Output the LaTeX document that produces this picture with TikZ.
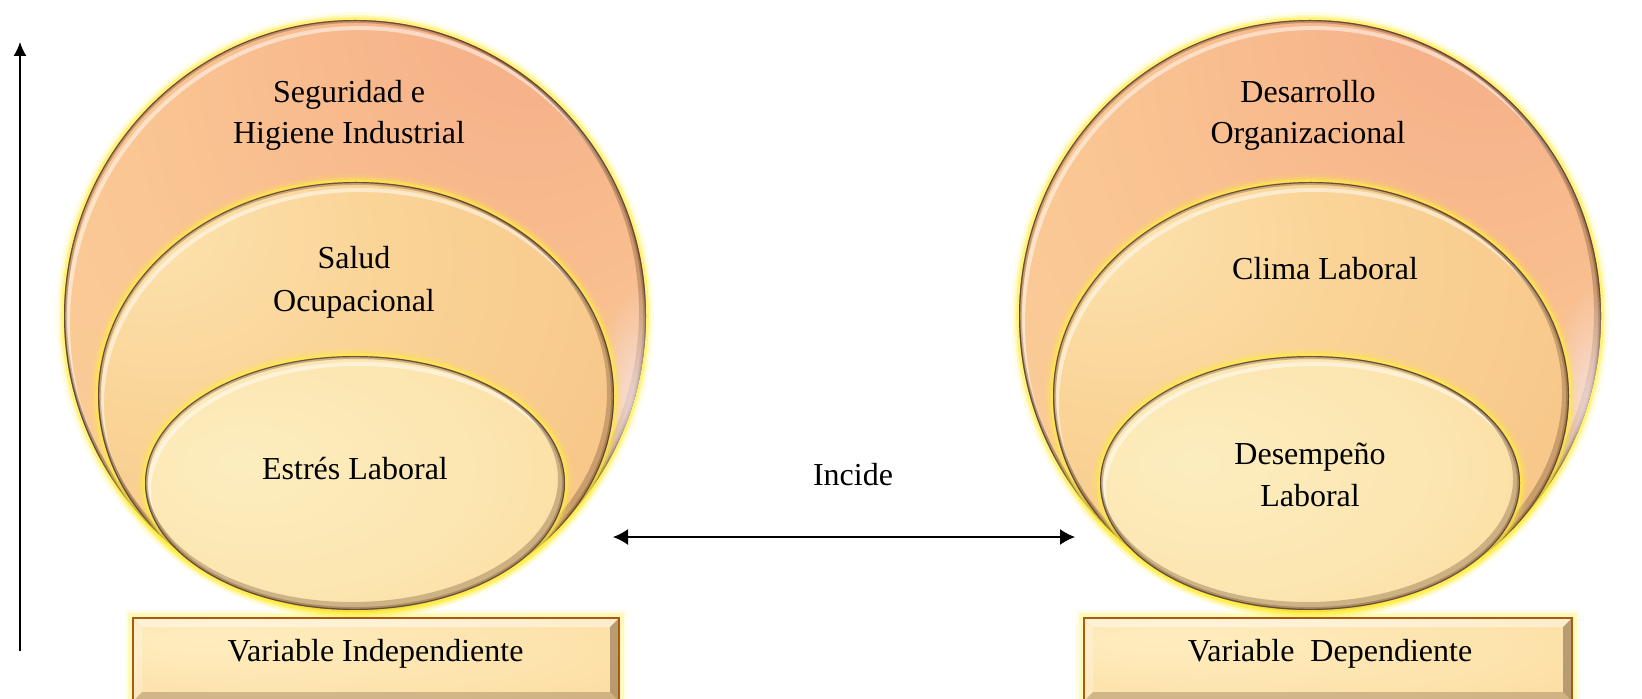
\documentclass[tikz,border=0pt]{standalone}
\usepackage{fontspec}
\setmainfont{Liberation Serif}
\usetikzlibrary{arrows.meta,fadings}
\definecolor{glow}{rgb}{1,0.93,0.25}
\definecolor{bevel}{rgb}{0.33,0.21,0.12}
\definecolor{lavender}{rgb}{0.96,0.90,0.93}
\tikzfading[name=softfade, inner color=transparent!0, outer color=transparent!100]
\pgfdeclareradialshading{bigshade}{\pgfpoint{17bp}{30bp}}{rgb(0bp)=(0.96,0.67,0.52); rgb(14bp)=(0.97,0.72,0.55); rgb(32bp)=(0.98,0.78,0.58); rgb(55bp)=(0.98,0.82,0.60); rgb(90bp)=(0.99,0.86,0.64)}
\pgfdeclareradialshading{midshade}{\pgfpoint{-22bp}{22bp}}{rgb(0bp)=(0.99,0.89,0.69); rgb(20bp)=(0.98,0.83,0.59); rgb(45bp)=(0.97,0.77,0.53); rgb(75bp)=(0.96,0.71,0.47); rgb(90bp)=(0.95,0.69,0.45)}
\pgfdeclareradialshading{innshade}{\pgfpoint{-14bp}{4bp}}{rgb(0bp)=(0.99,0.93,0.75); rgb(25bp)=(0.99,0.90,0.69); rgb(50bp)=(0.98,0.83,0.58); rgb(80bp)=(0.96,0.76,0.50)}
\pgfdeclareradialshading{boxshade}{\pgfpoint{-18bp}{12bp}}{rgb(0bp)=(1,0.93,0.75); rgb(35bp)=(0.99,0.88,0.66); rgb(70bp)=(0.98,0.81,0.57)}
% glossy ellipse: cx, cy, rx, ry (px), shading
\newcommand\glossyEll[5]{%
  \draw[line width=8pt, draw=glow, opacity=0.12] (#1,#2) ellipse [x radius=#3*0.5pt, y radius=#4*0.5pt];
  \draw[line width=5pt, draw=glow, opacity=0.25] (#1,#2) ellipse [x radius=#3*0.5pt, y radius=#4*0.5pt];
  \draw[line width=2.8pt, draw=glow, opacity=0.55] (#1,#2) ellipse [x radius=#3*0.5pt, y radius=#4*0.5pt];
  \shade[shading=#5] (#1,#2) ellipse [x radius=#3*0.5pt, y radius=#4*0.5pt];
  \begin{scope}
    \clip (#1,#2) ellipse [x radius=#3*0.5pt, y radius=#4*0.5pt];
    \draw[white, opacity=0.5, line width=2pt] (#1+4,#2+8) ellipse [x radius=#3*0.5pt, y radius=#4*0.5pt];
    \draw[bevel, opacity=0.28, line width=4pt] (#1-3,#2-4) ellipse [x radius=#3*0.5pt, y radius=#4*0.5pt];
    \draw[bevel, opacity=0.3, line width=3pt] (#1,#2) ellipse [x radius=#3*0.5pt, y radius=#4*0.5pt];
    \draw[bevel, opacity=0.75, line width=1.2pt] (#1,#2) ellipse [x radius=#3*0.5pt, y radius=#4*0.5pt];
  \end{scope}
}
% lavender sheen on right edge of a big circle
\newcommand\sheen[4]{%
  \begin{scope}
    \clip (#1,#2) ellipse [x radius=#3*0.5pt, y radius=#4*0.5pt];
    \fill[lavender, path fading=softfade, opacity=0.95] (#1+#3-8,#2+110) ellipse [x radius=22pt, y radius=70pt];
  \end{scope}
}
% bevelled box: x1, y1, x2, y2 (px)
\newcommand\bevelBox[4]{%
  \draw[line width=8pt, draw=glow, opacity=0.12] (#1,#2) rectangle (#3,#4);
  \draw[line width=5pt, draw=glow, opacity=0.25] (#1,#2) rectangle (#3,#4);
  \shade[shading=boxshade] (#1,#2) rectangle (#3,#4);
  \fill[white, opacity=0.45] (#1,#2) -- (#3,#2) -- (#3-9,#2+9) -- (#1+9,#2+9) -- cycle;
  \fill[white, opacity=0.25] (#1,#2) -- (#1+9,#2+9) -- (#1+9,#4-9) -- (#1,#4) -- cycle;
  \fill[bevel, opacity=0.4] (#3,#2) -- (#3,#4) -- (#3-9,#4-9) -- (#3-9,#2+9) -- cycle;
  \fill[bevel, opacity=0.25] (#1,#4) -- (#3,#4) -- (#3-9,#4-9) -- (#1+9,#4-9) -- cycle;
  \draw[draw=bevel!50!orange, line width=0.8pt] (#1,#2) rectangle (#3,#4);
}
\tikzset{
  lbl/.style={font=\fontsize{16pt}{20pt}\selectfont, inner sep=0pt, anchor=base, text=black},
  conn/.style={line width=0.75pt, black}
}
\begin{document}
\begin{tikzpicture}[x=0.5pt, y=-0.5pt]
\useasboundingbox (0,0) rectangle (1642,699);
% left group
\glossyEll{355}{316}{291}{296}{bigshade}
\sheen{355}{316}{291}{296}
\glossyEll{356}{396}{258}{214}{midshade}
\glossyEll{355}{483}{210}{127}{innshade}
\bevelBox{133}{618}{619}{701}
% right group
\glossyEll{1310}{316}{291}{296}{bigshade}
\sheen{1310}{316}{291}{296}
\glossyEll{1311}{396}{258}{214}{midshade}
\glossyEll{1310}{483}{210}{127}{innshade}
\bevelBox{1084}{618}{1572}{701}
% texts
\node[lbl] (seg) at (349,103) {Seguridad e};
\node[lbl] (hig) at (349,144) {Higiene Industrial};
\node[lbl] (sal) at (354,269) {Salud};
\node[lbl] (ocu) at (354,312) {Ocupacional};
\node[lbl] (est) at (355,480) {Estrés Laboral};
\node[lbl] (vi) at (375.5,661) {Variable Independiente};
\node[lbl] (des) at (1308,103) {Desarrollo};
\node[lbl] (org) at (1308,144) {Organizacional};
\node[lbl] (cli) at (1325,280) {Clima Laboral};
\node[lbl] (dsp) at (1310,465) {Desempeño};
\node[lbl] (lab) at (1310,506) {Laboral};
\node[lbl] (vd) at (1330,661) {Variable~~Dependiente};
\node[lbl] (inc) at (853,486) {Incide};
% connectors
\coordinate (vb) at (20,651);
\coordinate (vt) at (20,42);
\coordinate (ha) at (613,537);
\coordinate (hb) at (1075,537);
\draw[conn, -{Latex[length=7pt,width=6.5pt]}] (vb) -- (vt);
\draw[conn, {Latex[length=7.5pt,width=8pt]}-{Latex[length=7.5pt,width=8pt]}] (ha) -- (hb);
\end{tikzpicture}
\end{document}
